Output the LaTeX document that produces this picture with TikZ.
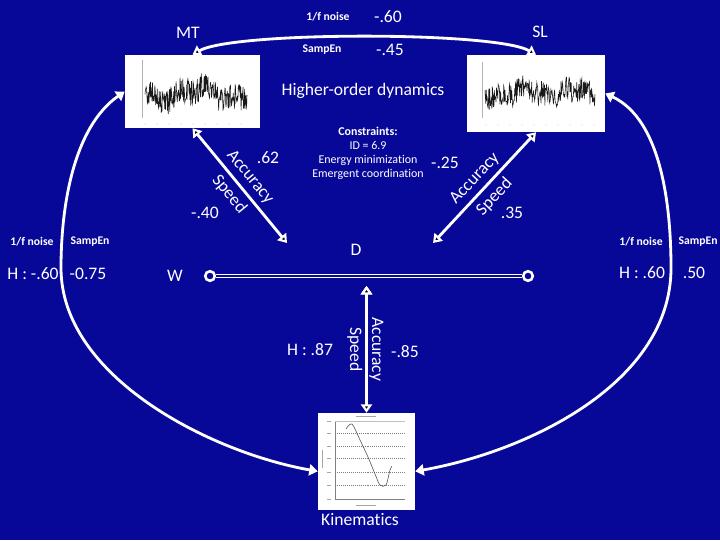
\documentclass[tikz,border=0pt]{standalone}
\usepackage{fontspec}
\setmainfont{Carlito}[Ligatures=NoCommon]
\usepackage{tikz}
\usetikzlibrary{arrows.meta,positioning}

\definecolor{slideblue}{RGB}{8,8,152}

\begin{document}
\begin{tikzpicture}[x=0.025cm, y=-0.025cm,
    big/.style={text=white, font=\fontsize{12.5}{14}\selectfont},
    small/.style={text=white, font=\fontsize{8.3}{10}\selectfont\bfseries},
    panel/.style={fill=white, inner sep=0pt},
    link/.style={draw=white, line width=2pt, {Triangle[width=8pt,length=6pt]}-{Triangle[width=8pt,length=6pt]}},
    ring/.style={circle, draw=white, line width=1.8pt, fill=slideblue, minimum size=0.24cm, inner sep=0pt}]

    \useasboundingbox (0,0) rectangle (720,540);
    \fill[slideblue] (0,0) rectangle (720,540);
    \pgfmathsetseed{11}

    \node[panel, minimum width=3.375cm, minimum height=1.825cm] (mt) at (192.5,91.5) {};
    \node[panel, minimum width=3.45cm, minimum height=1.925cm] (sl) at (536,93.5) {};
    \node[panel, minimum width=2.425cm, minimum height=2.425cm] (kin) at (366.5,461.5) {};

    % time series in the two panels
    \draw[gray!60, line width=0.3pt] (142,60) -- (142,118);
    \foreach \tx in {145,157,...,245} \fill[gray] (\tx,124) circle (0.3pt);
    \draw[black!90, line width=0.4pt] plot[domain=0:102, samples=260] (145+\x, {94+6*sin(5*\x)-4*sin(13*\x)+13*rand});
    \draw[gray!60, line width=0.3pt] (482,62) -- (482,118);
    \foreach \tx in {486,498,...,594} \fill[gray] (\tx,125) circle (0.3pt);
    \draw[black!90, line width=0.4pt] plot[domain=0:110, samples=260] (485+\x, {93+4*sin(7*\x)+3*sin(17*\x)+12*rand});

    % kinematics panel
    \draw[gray, line width=0.3pt] (335,421) -- (335,499) -- (405,499);
    \draw[gray!50, line width=0.3pt] (335,421) -- (405,421);
    \foreach \gy in {433,446,458,472,485}
        \draw[gray, densely dotted, line width=0.4pt] (335,\gy) -- (405,\gy);
    \foreach \gy in {421,433,446,458,472,485,499}
        \draw[gray!70, line width=0.4pt] (327,\gy) -- (331,\gy);
    \draw[gray!70, line width=0.5pt] (356,416) -- (376,416);
    \draw[gray!70, line width=0.4pt] (322,450) -- (322,468);
    \draw[gray!70, line width=0.4pt] (356,505) -- (376,505);
    \draw[black!70, line width=0.4pt] plot[smooth] coordinates {(346,429) (352,424) (360,440) (368,457) (375,474) (380,485) (386,485) (390,470) (392,466)};

    \node[big] (mtlbl) at (188,33) {MT};
    \node[big] (sllbl) at (540,32) {SL};
    \node[small] (noisetop) at (328,17) {1/f noise};
    \node[big] (noiseval) at (388,17) {-.60};
    \node[small] (sampentop) at (322,50) {SampEn};
    \node[big] (sampenval) at (390,50) {-.45};
    \node[big] (hod) at (363,91) {Higher-order dynamics};
    \node[text=white, font=\fontsize{8.5}{10}\selectfont, align=center] (constr) at (368,153)
        {\textbf{Constraints:}\\ID = 6.9\\Energy minimization\\Emergent coordination};

    \node[big] (r62) at (268,158) {.62};
    \node[big] (r40) at (205,213) {-.40};
    \node[big] (r25) at (445,163) {-.25};
    \node[big] (r35) at (512,213) {.35};
    \node[big] (dlbl) at (356,250) {D};
    \node[big] (wlbl) at (175,276) {W};
    \node[big] (h87) at (310,350) {H : .87};
    \node[big] (r85) at (405,352) {-.85};
    \node[big] (kinlbl) at (360,520) {Kinematics};

    \node[small] (noisel) at (32,242) {1/f noise};
    \node[small] (sampenl) at (90,242) {SampEn};
    \node[big] (hl) at (33,274) {H : -.60};
    \node[big] (sampenlv) at (88,274) {-0.75};
    \node[small] (noiser) at (641,242) {1/f noise};
    \node[small] (sampenr) at (698,242) {SampEn};
    \node[big] (hr) at (642,273) {H : .60};
    \node[big] (sampenrv) at (694,273) {.50};

    \node[ring] (wl) at (210,276) {};
    \node[ring] (wr) at (528,276) {};
    \draw[white, line width=0.8pt, double=slideblue, double distance=1.4pt] (wl) -- (wr);

    \coordinate (ltip) at (287,243);
    \coordinate (rtip) at (433,243);
    \coordinate (wtip) at (kin.north |- 0,286);
    \coordinate (lbend) at (61,268);
    \coordinate (rbend) at (671,268);

    \path[link]
        (mt.north) edge[bend left=30, looseness=0.35] (sl.north)
        (mt.south) edge node[big, sloped, above] {Accuracy} node[big, sloped, below] {Speed} (ltip)
        (rtip) edge node[big, sloped, above] {Accuracy} node[big, sloped, below] {Speed} (sl.south)
        (wtip) edge node[big, sloped, above, inner sep=1pt] {Accuracy} node[big, sloped, below, inner sep=2pt] {Speed} (kin.north);

    \draw[link] (mt.west) to[out=215, in=90, looseness=0.85] (lbend) to[out=270, in=170, looseness=0.85] ([yshift=-7pt]kin.west);
    \draw[link] (sl.east) to[out=-25, in=90, looseness=0.85] (rbend) to[out=270, in=10, looseness=0.9] ([yshift=-7pt]kin.east);
\end{tikzpicture}
\end{document}
